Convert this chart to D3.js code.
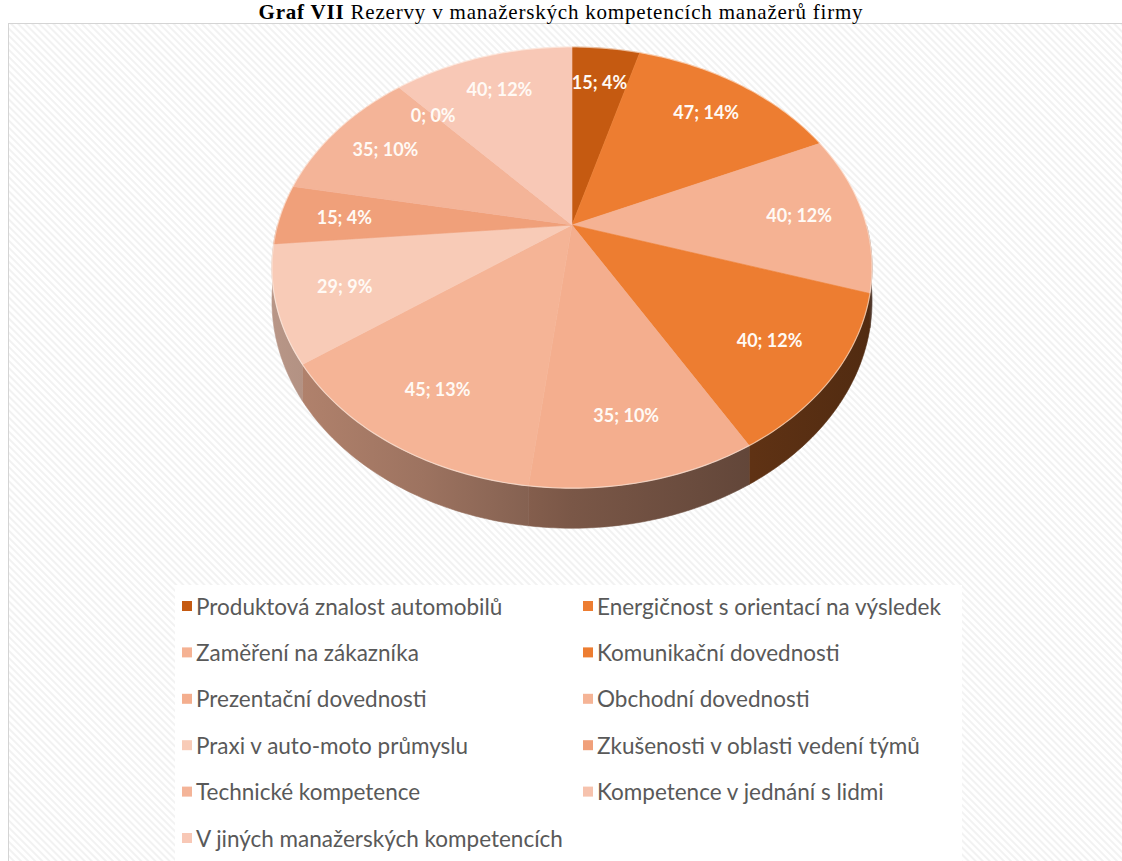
<!DOCTYPE html>
<html>
<head>
<meta charset="utf-8">
<script src="https://cdn.jsdelivr.net/npm/d3@7"></script>
<style>
  html, body { margin: 0; padding: 0; background: #ffffff; }
  svg { display: block; }
</style>
</head>
<body>
<svg id="chart" width="1122" height="861"></svg>
<script>
// ---- data ----
const categories = [
  "Produktová znalost automobilů",
  "Energičnost s orientací na výsledek",
  "Zaměření na zákazníka",
  "Komunikační dovednosti",
  "Prezentační dovednosti",
  "Obchodní dovednosti",
  "Praxi v auto-moto průmyslu",
  "Zkušenosti v oblasti vedení týmů",
  "Technické kompetence",
  "Kompetence v jednání s lidmi",
  "V jiných manažerských kompetencích"
];
const values = [15, 47, 40, 40, 35, 45, 29, 15, 35, 0, 40];

const titleBold = "Graf VII";
const titleRest = " Rezervy v manažerských kompetencích manažerů firmy";

// ---- styles ----
const sliceColors = [
  "#c55a11", "#ed7d31", "#f5b293", "#ed7d31", "#f4ae8e", "#f5b496",
  "#f8cbb7", "#f0a07a", "#f4b498", "#f6c2ad", "#f8c8b6"
];

const W = 1122, H = 861;
const svg = d3.select("#chart");
const defs = svg.append("defs");

// diagonal hatch for the chart area
const hatch = defs.append("pattern")
  .attr("id", "hatch")
  .attr("patternUnits", "userSpaceOnUse")
  .attr("width", 5).attr("height", 5)
  .attr("patternTransform", "rotate(-45)");
hatch.append("rect").attr("width", 5).attr("height", 5).attr("fill", "#ffffff");
hatch.append("line")
  .attr("x1", 1).attr("y1", 0).attr("x2", 1).attr("y2", 5)
  .attr("stroke", "#eeeeee").attr("stroke-width", 1.5);

// chart area frame
svg.append("rect")
  .attr("x", 8.5).attr("y", 23.5)
  .attr("width", W).attr("height", H)
  .attr("fill", "url(#hatch)")
  .attr("stroke", "#d4d4d4").attr("stroke-width", 1);

// title
const title = svg.append("text")
  .attr("x", 561).attr("y", 18.5)
  .attr("text-anchor", "middle")
  .attr("font-family", "'Liberation Serif', 'Times New Roman', serif")
  .attr("font-size", 21)
  .attr("letter-spacing", 0.8)
  .attr("fill", "#000");
title.append("tspan").attr("font-weight", "bold").text(titleBold);
title.append("tspan").text(titleRest);

// ---- 3D pie geometry ----
// perspective-tilted disc: angle t clockwise from the far side, radius fraction r
const persp = 0.193;       // near side appears larger
const depth = 32.3;        // wall height before perspective scaling
const xScale = d3.scaleLinear().domain([-1, 1]).range([572 - 294.4, 572 + 294.4]);
const yScale = d3.scaleLinear().domain([-1, 1]).range([225 - 212.4, 225 + 212.4]);

function project(t, r, h) {
  const s = 1 / (1 + persp * r * Math.cos(t));
  const x = xScale(r * Math.sin(t) * s);
  const y = yScale(-r * Math.cos(t) * s) + h * s;
  return [x, y];
}

function arcPoints(a0, a1, r, h) {
  const n = Math.max(2, Math.ceil((a1 - a0) / (Math.PI / 180)));
  return d3.range(n + 1).map(i => project(a0 + (a1 - a0) * i / n, r, h));
}

const line = d3.line();
const pie = d3.pie().sort(null).value(d => d);
const arcs = pie(values).map((a, i) => ({ ...a, i }));
const total = d3.sum(values);

// side wall shading per slice
arcs.forEach(a => {
  const c = sliceColors[a.i];
  const g = defs.append("linearGradient")
    .attr("id", "wall" + a.i)
    .attr("gradientUnits", "userSpaceOnUse")
    .attr("x1", xScale(-1.02)).attr("x2", xScale(1.02))
    .attr("y1", 0).attr("y2", 0);
  [[0, 0.26], [0.25, 0.36], [0.5, 0.5], [0.8, 0.6], [1, 0.66]].forEach(([o, k]) => {
    g.append("stop").attr("offset", o).attr("stop-color", d3.interpolateRgb(c, "#000")(k));
  });
});

const gWalls = svg.append("g");
const gTops = svg.append("g");
const gLabels = svg.append("g");

// visible front walls
arcs.forEach(a => {
  if (a.endAngle - a.startAngle <= 0) return;
  const lo = Math.max(a.startAngle, Math.PI / 2);
  const hi = Math.min(a.endAngle, Math.PI * 1.5);
  if (hi <= lo) return;
  const top = arcPoints(lo, hi, 1, 0);
  const bottom = arcPoints(lo, hi, 1, depth).reverse();
  gWalls.append("path")
    .attr("d", line(top.concat(bottom)) + "Z")
    .attr("fill", `url(#wall${a.i})`)
    .attr("stroke", `url(#wall${a.i})`)
    .attr("stroke-width", 0.6);
});

// top faces
arcs.forEach(a => {
  if (a.endAngle - a.startAngle <= 0) return;
  const pts = [project(0, 0, 0)].concat(arcPoints(a.startAngle, a.endAngle, 1, 0));
  gTops.append("path")
    .attr("d", line(pts) + "Z")
    .attr("fill", sliceColors[a.i])
    .attr("stroke", sliceColors[a.i])
    .attr("stroke-width", 0.6)
    .attr("stroke-linejoin", "round");
});

// soft light rim on the top face edge
gTops.append("path")
  .attr("d", line(arcPoints(0, Math.PI * 2, 1, 0)) + "Z")
  .attr("fill", "none")
  .attr("stroke", "#fff6ee")
  .attr("stroke-opacity", 0.55)
  .attr("stroke-width", 1.2);

// data labels "value; percent"
arcs.forEach(a => {
  const mid = (a.startAngle + a.endAngle) / 2;
  const [x, y] = project(mid, 0.78, 0);
  gLabels.append("text")
    .attr("x", x).attr("y", y)
    .attr("text-anchor", "middle")
    .attr("dominant-baseline", "central")
    .attr("font-family", "Lato, 'Open Sans', sans-serif")
    .attr("font-weight", "bold")
    .attr("font-size", 18)
    .attr("fill", "#fffaf5")
    .text(`${values[a.i]}; ${Math.round(values[a.i] / total * 100)}%`);
});

// ---- legend ----
svg.append("rect")
  .attr("x", 175).attr("y", 585)
  .attr("width", 787).attr("height", H - 585)
  .attr("fill", "#ffffff");

const legendCol = d3.scaleOrdinal().domain([0, 1]).range([182, 583]);
const legendRow = d3.scaleLinear().domain([0, 1]).range([606, 652.4]);

const items = svg.append("g").selectAll("g")
  .data(categories)
  .join("g")
  .attr("transform", (d, i) => `translate(${legendCol(i % 2)},${legendRow(Math.floor(i / 2))})`);

items.append("rect")
  .attr("x", 0).attr("y", -5)
  .attr("width", 10).attr("height", 10)
  .attr("fill", (d, i) => sliceColors[i]);

items.append("text")
  .attr("x", 14).attr("y", 0)
  .attr("dominant-baseline", "central")
  .attr("font-family", "Lato, 'Open Sans', sans-serif")
  .attr("font-size", 22.5)
  .attr("fill", "#595959")
  .text(d => d);
</script>
</body>
</html>
